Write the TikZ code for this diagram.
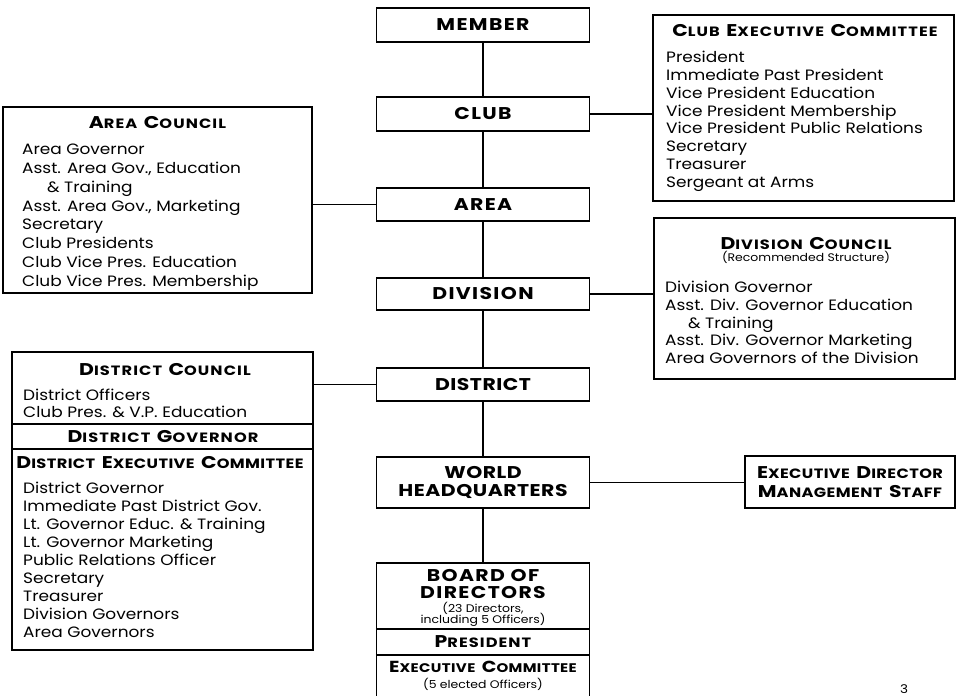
\documentclass[tikz,border=0pt]{standalone}
\usepackage{fontspec}
\setmainfont{Poppins}[FakeStretch=1.13]
\newfontfamily\headfont{Poppins}[FakeStretch=1.2, LetterSpace=8]
\usetikzlibrary{positioning,calc}

% small caps by hand: big first letter, smaller rest
\def\schbig{17bp}
\def\schsmall{13.5bp}
\newcommand{\sch}[2]{{\fontsize{\schbig}{18bp}\selectfont#1}{\fontsize{\schsmall}{18bp}\selectfont#2}}
\newcommand{\scgap}{\hspace{6.5bp}}

\tikzset{
  box/.style={draw, line width=1.3bp, inner sep=0pt},
  mainbox/.style={box, minimum width=213bp, minimum height=33bp, align=center,
    font=\headfont\bfseries\fontsize{17bp}{18bp}\selectfont},
  tight/.style={font=\headfont\addfontfeature{LetterSpace=3}\bfseries\fontsize{17bp}{18bp}\selectfont},
  head/.style={font=\headfont\bfseries, anchor=base, inner sep=0pt},
  items/.style={font=\fontsize{15bp}{17.8bp}\selectfont, align=left, anchor=north west, inner sep=0pt},
  note/.style={font=\fontsize{11bp}{11bp}\selectfont, anchor=base, inner sep=0pt},
  link/.style={line width=1.3bp}
}

\begin{document}
\begin{tikzpicture}[x=1bp,y=-1bp]
  \useasboundingbox (0,0) rectangle (956,696);
  %% main column
  % Node: member
  \node[mainbox, minimum height=34bp] (member) at (483,25) {MEMBER};
  % Node: club
  \node[mainbox, minimum height=34bp] (club) at (483,114) {CLUB};
  % Node: area
  \node[mainbox] (area) at (483,204.5) {AREA};
  % Node: division
  \node[mainbox, minimum height=32bp] (division) at (483,294) {DIVISION};
  % Node: district
  \node[mainbox, tight] (district) at (483,384.5) {DISTRICT};
  % Node: whq
  \node[mainbox, tight, minimum height=51bp] (whq) at (483,482.5) {WORLD\\HEADQUARTERS};
  % Node: board
  \node[box, minimum width=213bp, minimum height=137bp] (board) at (483,631.5) {};
  \draw[link] (board.west |- 0,629) -- (board.east |- 0,629);
  \draw[link] (board.west |- 0,655) -- (board.east |- 0,655);
  \node[head, font=\headfont\bfseries\fontsize{17bp}{18bp}\selectfont] (boardt1) at (483,581) {BOARD OF};
  \node[head, font=\headfont\bfseries\fontsize{17bp}{18bp}\selectfont] (boardt2) at (483,598) {DIRECTORS};
  \node[note] (boardn1) at (483,612) {(23 Directors,};
  \node[note] (boardn2) at (483,623) {including 5 Officers)};
  \node[head] (pres) at (483,647) {\sch{P}{RESIDENT}};
  \node[head, font=\headfont\addfontfeature{LetterSpace=3}\bfseries\def\schbig{16bp}\def\schsmall{12.5bp}] (exco) at (483,672) {\sch{E}{XECUTIVE}\scgap\sch{C}{OMMITTEE}};
  \node[note] (exconote) at (483,688) {(5 elected Officers)};

  %% side boxes
  % Node: clubexec
  \node[box, minimum width=301bp, minimum height=186bp] (clubexec) at (803.5,108) {};
  \node[head] (clubexect) at (805,37) {\sch{C}{LUB}\scgap\sch{E}{XECUTIVE}\scgap\sch{C}{OMMITTEE}};
  \node[items] (clubexecl) at (666,51) {President\\Immediate Past President\\Vice President Education\\Vice President Membership\\Vice President Public Relations\\Secretary\\Treasurer\\Sergeant at Arms};
  % Node: areacouncil
  \node[box, minimum width=309bp, minimum height=186bp] (areacouncil) at (157.5,200) {};
  \node[head] (areacouncilt) at (157.5,129) {\sch{A}{REA}\scgap\sch{C}{OUNCIL}};
  \node[items, font=\fontsize{15bp}{18.8bp}\selectfont] (areacouncill) at (22,144) {Area Governor\\Asst. Area Gov., Education\\\hspace*{25bp}\& Training\\Asst. Area Gov., Marketing\\Secretary\\Club Presidents\\Club Vice Pres. Education\\Club Vice Pres. Membership};
  % Node: divcouncil
  \node[box, minimum width=301bp, minimum height=161bp] (divcouncil) at (804.5,298.5) {};
  \node[head] (divcouncilt) at (806,249) {\sch{D}{IVISION}\scgap\sch{C}{OUNCIL}};
  \node[note] (divcounciln) at (806,261) {(Recommended Structure)};
  \node[items, font=\fontsize{15bp}{17.75bp}\selectfont] (divcouncill) at (665,281) {Division Governor\\Asst. Div. Governor Education\\\hspace*{23bp}\& Training\\Asst. Div. Governor Marketing\\Area Governors of the Division};
  % Node: distcouncil
  \node[box, minimum width=301bp, minimum height=298bp] (distcouncil) at (162.5,501) {};
  \draw[link] (distcouncil.west |- 0,424) -- (distcouncil.east |- 0,424);
  \draw[link] (distcouncil.west |- 0,449) -- (distcouncil.east |- 0,449);
  \node[head] (distcouncilt) at (165,375) {\sch{D}{ISTRICT}\scgap\sch{C}{OUNCIL}};
  \node[items, font=\fontsize{15bp}{17bp}\selectfont] (distcouncill) at (23,389) {District Officers\\Club Pres. \& V.P. Education};
  \node[head] (distgov) at (163,442) {\sch{D}{ISTRICT}\scgap\sch{G}{OVERNOR}};
  \node[head, font=\headfont\addfontfeature{LetterSpace=3}\bfseries] (distexec) at (160,468) {\sch{D}{ISTRICT}\scgap\sch{E}{XECUTIVE}\scgap\sch{C}{OMMITTEE}};
  \node[items, font=\fontsize{15bp}{18bp}\selectfont] (distexecl) at (23,482) {District Governor\\Immediate Past District Gov.\\Lt. Governor Educ. \& Training\\Lt. Governor Marketing\\Public Relations Officer\\Secretary\\Treasurer\\Division Governors\\Area Governors};
  % Node: execdir
  \node[box, minimum width=210bp, minimum height=52bp, align=center, font={\headfont\addfontfeature{LetterSpace=3}\bfseries\fontsize{15bp}{19bp}\selectfont}] (execdir) at (850,482) {\sch{E}{XECUTIVE}\scgap\sch{D}{IRECTOR}\\\sch{M}{ANAGEMENT}\scgap\sch{S}{TAFF}};
  % page number
  \node[anchor=north, inner sep=0pt, font=\fontsize{12bp}{12bp}\selectfont] (pagenum) at (904,684) {3};

  %% edges
  % Edge: member -- club -- area -- division -- district -- whq -- board
  \draw[link] (member) -- (club);
  \draw[link] (club) -- (area);
  \draw[link] (area) -- (division);
  \draw[link] (division) -- (district);
  \draw[link] (district) -- (whq);
  \draw[link] (whq) -- (board);
  % Edge: side links
  \draw[link] (club.east) -- (club.east -| clubexec.west);
  \draw[link] (area.west) -- (area.west -| areacouncil.east);
  \draw[link] (division.east) -- (division.east -| divcouncil.west);
  \draw[link] (district.west) -- (district.west -| distcouncil.east);
  \draw[link] (whq.east) -- (whq.east -| execdir.west);
\end{tikzpicture}
\end{document}
